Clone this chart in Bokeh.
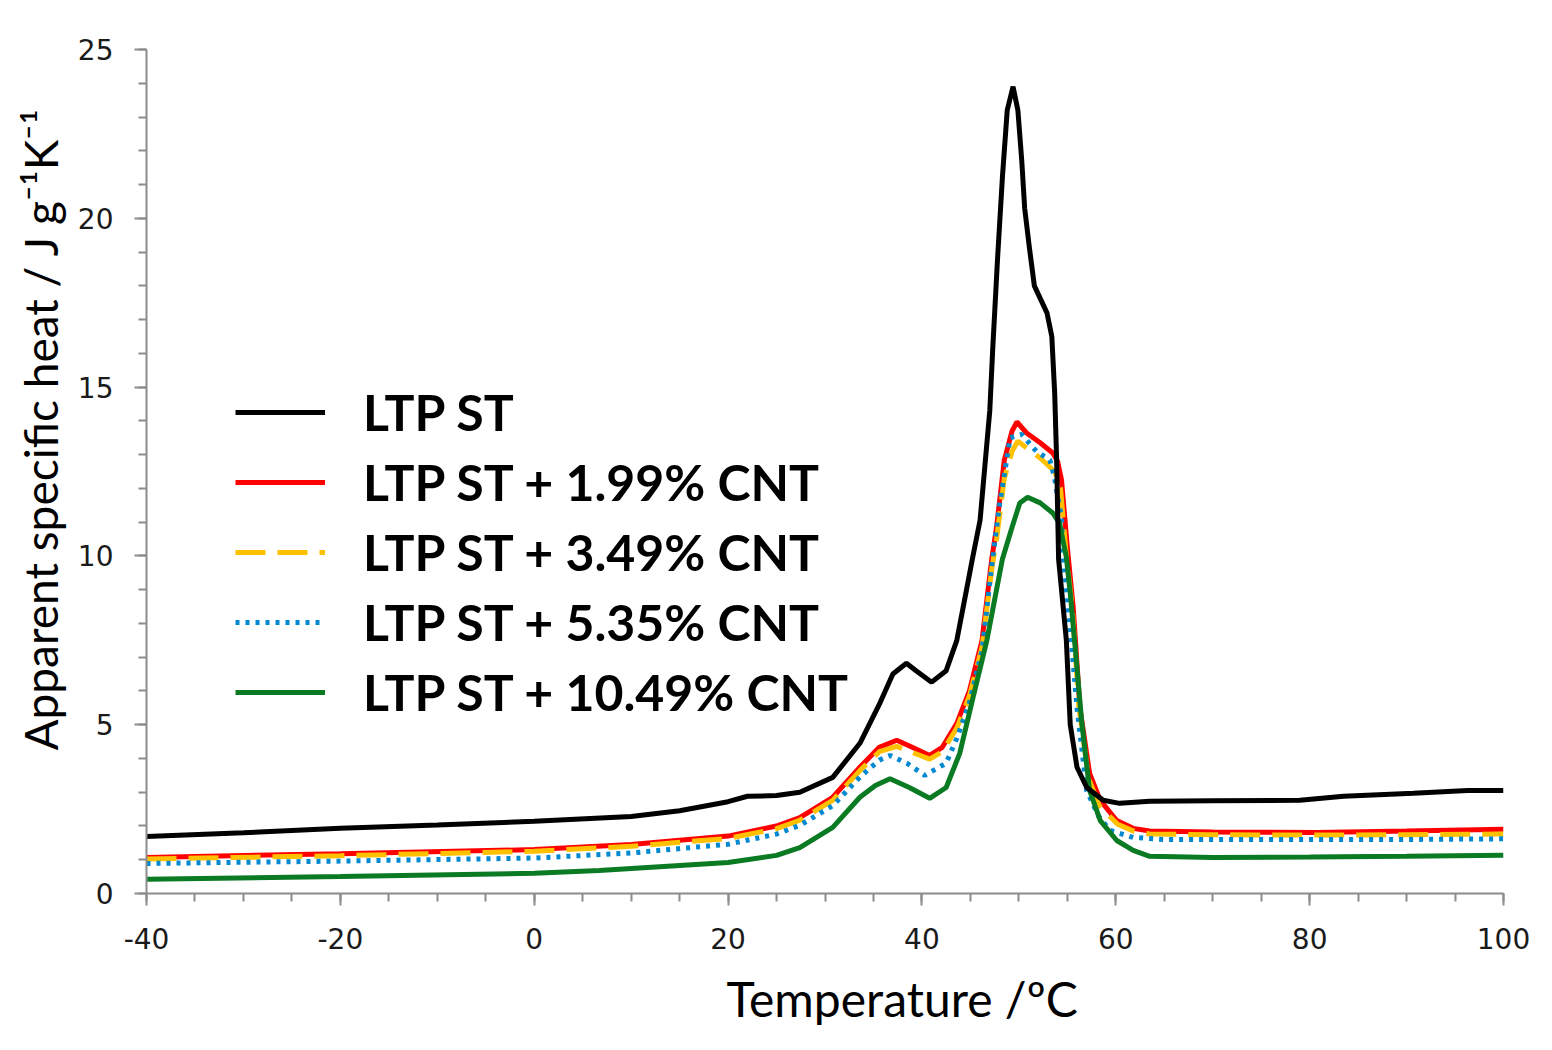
from bokeh.plotting import figure
from bokeh.models import Legend, LegendItem, FixedTicker, Range1d, Title
from bokeh.embed import file_html
from bokeh.resources import INLINE

# LTP ST (pure)
t_black = [-40, -30, -20, -10, 0, 10, 15, 20, 22, 25, 27.4, 30.8, 33.6, 35.6, 37.0, 38.4, 39.4, 41.0,
           42.5, 43.6, 44.6, 45.2, 46.0, 47.0, 47.3, 47.8, 48.3, 48.8, 49.4, 49.9, 50.3, 50.6, 51.1, 51.6,
           52.9, 53.4, 53.7, 53.9, 54.1, 54.9, 55.3, 56.0, 57.0, 58.7, 60.4, 63.5, 70, 79.0, 83.5, 90.7,
           96.3, 100]
cp_black = [1.69, 1.80, 1.93, 2.03, 2.14, 2.28, 2.45, 2.72, 2.88, 2.90, 3.0, 3.44, 4.45, 5.6, 6.5, 6.82,
            6.6, 6.26, 6.6, 7.5, 9.0, 9.9, 11.06, 14.3, 16.1, 18.8, 21.2, 23.2, 23.9, 23.2, 21.7, 20.3,
            19.1, 18.0, 17.2, 16.5, 14.8, 12.8, 9.9, 7.5, 5.0, 3.74, 3.14, 2.76, 2.67, 2.73, 2.75, 2.76,
            2.88, 2.97, 3.05, 3.05]

# + 1.99% CNT
t_red = [-40, -20, 0, 10, 20, 25, 27.4, 30.8, 33.6, 35.6, 37.4, 39.0, 40.8, 42.1, 43.6, 44.9, 46.2, 47.2,
         47.7, 48.5, 49.3, 49.8, 50.8, 52.2, 53.5, 54.0, 54.4, 55.0, 55.6, 56.0, 56.3, 57.3, 58.4, 60.1,
         61.8, 63.5, 70, 80.8, 90, 100]
cp_red = [1.07, 1.18, 1.30, 1.45, 1.70, 2.0, 2.25, 2.85, 3.74, 4.33, 4.54, 4.33, 4.09, 4.33, 5.04, 6.0,
          7.5, 9.9, 10.85, 12.84, 13.7, 13.97, 13.64, 13.35, 13.05, 12.8, 12.25, 10.26, 8.5, 6.8, 5.5,
          3.56, 2.76, 2.16, 1.93, 1.85, 1.82, 1.81, 1.85, 1.90]

# + 3.49% CNT
t_yellow = [-40, -20, 0, 10, 20, 25, 27.4, 30.8, 33.6, 35.6, 37.4, 39.0, 40.8, 42.1, 43.6, 44.9, 46.2,
            47.2, 47.7, 48.5, 49.3, 49.9, 50.8, 52.2, 53.7, 54.3, 54.9, 55.5, 56.2, 57.2, 58.3, 60.2, 61.9,
            63.5, 70, 80, 90, 100]
cp_yellow = [1.02, 1.12, 1.25, 1.40, 1.63, 1.92, 2.17, 2.76, 3.64, 4.2, 4.36, 4.18, 3.98, 4.2, 4.9, 5.85,
             7.3, 9.6, 10.5, 12.3, 13.1, 13.4, 13.2, 12.9, 12.5, 12.0, 10.0, 8.5, 5.5, 3.4, 2.6, 2.05, 1.84,
             1.76, 1.74, 1.73, 1.74, 1.76]

# + 5.35% CNT
t_blue = [-40, -20, 0, 10, 20, 25, 27.4, 30.8, 33.6, 35.6, 36.7, 38.5, 40.3, 42.5, 43.6, 44.9, 46.2, 47.2,
          48.0, 49.1, 50.3, 51.8, 53.2, 53.7, 54.0, 54.4, 54.5, 54.9, 55.4, 56.0, 57.0, 58.2, 59.4, 61.8,
          65, 70, 80, 90, 100]
cp_blue = [0.89, 0.96, 1.05, 1.20, 1.46, 1.76, 2.02, 2.6, 3.45, 3.95, 4.09, 3.85, 3.5, 3.86, 4.6, 5.65,
           7.2, 9.7, 11.5, 13.5, 13.6, 13.1, 12.84, 12.3, 11.74, 11.15, 10.2, 9.07, 7.5, 5.5, 3.05, 2.3,
           1.87, 1.66, 1.6, 1.6, 1.6, 1.6, 1.62]

# + 10.49% CNT
t_green = [-40, -20, 0, 6.7, 20, 25, 27.4, 30.8, 33.6, 35.2, 36.7, 38.7, 40.8, 42.5, 43.9, 45.2, 46.7,
           48.3, 49.3, 50.1, 50.9, 52.2, 53.5, 54.2, 54.9, 55.3, 55.9, 56.5, 57.3, 58.4, 60.1, 61.8, 63.5,
           70, 80, 90, 100]
cp_green = [0.42, 0.50, 0.60, 0.68, 0.92, 1.13, 1.36, 1.96, 2.85, 3.2, 3.4, 3.14, 2.82, 3.14, 4.15, 5.72,
            7.5, 9.9, 10.85, 11.57, 11.74, 11.57, 11.27, 10.97, 9.96, 8.9, 7.0, 5.04, 3.05, 2.16, 1.57,
            1.28, 1.1, 1.07, 1.08, 1.1, 1.13]

series_names = ["LTP ST", "LTP ST + 1.99% CNT", "LTP ST + 3.49% CNT",
                "LTP ST + 5.35% CNT", "LTP ST + 10.49% CNT"]

x_ticks = [-40, -20, 0, 20, 40, 60, 80, 100]
x_tick_labels = ["-40", "-20", "0", "20", "40", "60", "80", "100"]
y_ticks = [0, 5, 10, 15, 20, 25]
y_tick_labels = ["0", "5", "10", "15", "20", "25"]

p = figure(width=1536, height=1042, output_backend="svg", toolbar_location=None,
           x_range=Range1d(-40, 100), y_range=Range1d(0, 25),
           min_border_left=146, min_border_right=33, min_border_top=49, min_border_bottom=149)
p.outline_line_color = None
p.grid.visible = False
p.background_fill_color = "white"

lw = 5
r_red = p.line(t_red, cp_red, line_color="#ff0000", line_width=lw)
r_yellow = p.line(t_yellow, cp_yellow, line_color="#ffc000", line_width=lw, line_dash="30 12")
r_blue = p.line(t_blue, cp_blue, line_color="#0088d0", line_width=lw, line_dash="4 6")
r_green = p.line(t_green, cp_green, line_color="#0a7a23", line_width=lw)
r_black = p.line(t_black, cp_black, line_color="black", line_width=lw)

legend = Legend(items=[
    LegendItem(label=series_names[0], renderers=[r_black]),
    LegendItem(label=series_names[1], renderers=[r_red]),
    LegendItem(label=series_names[2], renderers=[r_yellow]),
    LegendItem(label=series_names[3], renderers=[r_blue]),
    LegendItem(label=series_names[4], renderers=[r_green]),
], location=(89, 166))
legend.border_line_alpha = 0
legend.background_fill_alpha = 0
legend.padding = 0
legend.margin = 0
legend.spacing = 0
legend.glyph_width = 90
legend.glyph_height = 70
legend.label_height = 70
legend.label_standoff = 38
legend.label_text_font = "Lato"
legend.label_text_font_style = "bold"
legend.label_text_font_size = "50px"
legend.label_text_color = "black"
p.add_layout(legend)

# axes
p.xaxis.ticker = FixedTicker(ticks=x_ticks, minor_ticks=list(range(-40, 101, 5)))
p.yaxis.ticker = FixedTicker(ticks=y_ticks, minor_ticks=list(range(0, 26)))
p.xaxis.major_label_overrides = dict(zip(x_ticks, x_tick_labels))
p.yaxis.major_label_overrides = dict(zip(y_ticks, y_tick_labels))

for ax in (p.xaxis[0], p.yaxis[0]):
    ax.axis_line_color = "#8c8c8c"
    ax.axis_line_width = 2
    ax.major_tick_line_color = "#8c8c8c"
    ax.major_tick_line_width = 2
    ax.minor_tick_line_color = "#8c8c8c"
    ax.minor_tick_line_width = 2
    ax.major_tick_in = 0
    ax.major_tick_out = 12
    ax.minor_tick_in = 0
    ax.minor_tick_out = 8
    ax.major_label_text_font = "DejaVu Sans"
    ax.major_label_text_font_size = "28px"
    ax.major_label_text_color = "#1a1a1a"

p.xaxis.major_label_standoff = 22
p.yaxis.major_label_standoff = 21

# axis titles sit off-centre in the original, so use side titles with an offset
x_title = Title(text="Temperature /ºC", align="left", offset=580, vertical_align="bottom",
                standoff=32, text_font="Lato", text_font_size="48px", text_font_style="normal",
                text_color="black")
y_title = Title(text="Apparent specific heat / J g⁻¹K⁻¹", align="left", offset=143,
                vertical_align="bottom", standoff=14, text_font="Lato", text_font_size="46px",
                text_font_style="normal", text_color="black")
p.add_layout(x_title, "below")
p.add_layout(y_title, "left")

open("out.html", "w").write(file_html(p, INLINE))
